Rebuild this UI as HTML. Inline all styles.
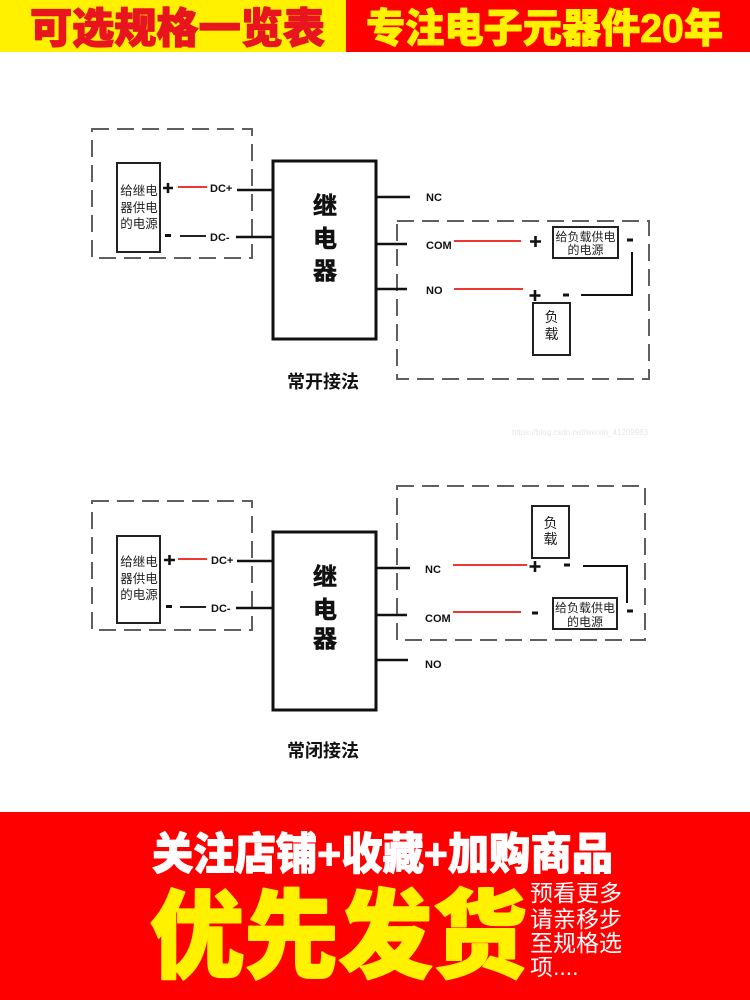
<!DOCTYPE html>
<html>
<head>
<meta charset="utf-8">
<style>
  html,body{margin:0;padding:0;background:#fff;}
  body{width:750px;height:1000px;overflow:hidden;}
  svg{display:block;}
  .cjk{font-family:"Liberation Sans","Noto Sans CJK SC","WenQuanYi Zen Hei",sans-serif;}
  .lat{font-family:"Liberation Sans","Noto Sans CJK SC",sans-serif;}
</style>
</head>
<body>
<svg width="750" height="1000" viewBox="0 0 750 1000" xmlns="http://www.w3.org/2000/svg">
  <rect x="0" y="0" width="750" height="1000" fill="#ffffff"/>

  <!-- Header -->
  <rect x="0" y="0" width="346" height="52" fill="#FFF100"/>
  <rect x="346" y="0" width="404" height="52" fill="#FE0000"/>
  <text x="30" y="43" class="cjk" font-size="42" font-weight="900" fill="#E8141E" stroke="#E8141E" stroke-width="1.2" stroke-linejoin="round" textLength="295" lengthAdjust="spacingAndGlyphs">可选规格一览表</text>
  <text x="366" y="42" class="cjk" font-size="40" font-weight="900" fill="#FFF100" stroke="#FFF100" stroke-width="1" stroke-linejoin="round" textLength="357" lengthAdjust="spacingAndGlyphs">专注电子元器件20年</text>

  <!-- ============ TOP DIAGRAM (常开接法) ============ -->
  <g fill="none" stroke="#606060" stroke-width="2" stroke-dasharray="17 8">
    <rect x="92" y="129" width="160" height="129"/>
    <rect x="397" y="221" width="252" height="158"/>
  </g>
  <rect x="117" y="163" width="43" height="89" fill="#fff" stroke="#222" stroke-width="2"/>
  <g class="cjk" font-size="12.5" fill="#222" text-anchor="middle">
    <text x="139" y="195">给继电</text>
    <text x="139" y="212">器供电</text>
    <text x="139" y="228">的电源</text>
  </g>
  <path d="M163 188 H173 M168 183 V193" stroke="#111" stroke-width="2.6"/>
  <rect x="165" y="234" width="6" height="3" fill="#111"/>
  <line x1="178" y1="187" x2="207" y2="187" stroke="#F03535" stroke-width="2"/>
  <line x1="180" y1="236" x2="206" y2="236" stroke="#222" stroke-width="2"/>
  <g class="lat" font-size="11" font-weight="bold" fill="#111">
    <text x="210" y="192">DC+</text>
    <text x="210" y="241">DC-</text>
  </g>
  <g stroke="#111" stroke-width="2.6">
    <line x1="237" y1="190" x2="274" y2="190"/>
    <line x1="236" y1="237" x2="274" y2="237"/>
  </g>
  <rect x="273" y="161" width="103" height="178" fill="#fff" stroke="#111" stroke-width="3"/>
  <g class="cjk" font-size="24" font-weight="bold" fill="#111" stroke="#111" stroke-width="0.6" text-anchor="middle">
    <text x="325" y="214">继</text>
    <text x="325" y="247">电</text>
    <text x="325" y="279">器</text>
  </g>
  <g stroke="#111" stroke-width="2.6">
    <line x1="375" y1="197" x2="410" y2="197"/>
    <line x1="375" y1="244" x2="407" y2="244"/>
    <line x1="375" y1="289" x2="407" y2="289"/>
  </g>
  <g class="lat" font-size="11" font-weight="bold" fill="#111">
    <text x="426" y="201">NC</text>
    <text x="426" y="249">COM</text>
    <text x="426" y="294">NO</text>
  </g>
  <line x1="454" y1="241" x2="521" y2="241" stroke="#F03535" stroke-width="2"/>
  <line x1="454" y1="289" x2="523" y2="289" stroke="#F03535" stroke-width="2"/>
  <path d="M530 241.5 H541 M535.5 236 V247" stroke="#111" stroke-width="2.6"/>
  <path d="M529.5 295.5 H540.5 M535 290 V301" stroke="#111" stroke-width="2.6"/>
  <rect x="627" y="238.5" width="6" height="3" fill="#111"/>
  <rect x="563" y="293.5" width="6" height="3" fill="#111"/>
  <rect x="553" y="227" width="65" height="31" fill="#fff" stroke="#222" stroke-width="2"/>
  <g class="cjk" font-size="12" fill="#222" text-anchor="middle">
    <text x="585.5" y="241">给负载供电</text>
    <text x="585.5" y="254">的电源</text>
  </g>
  <path d="M632 252 V295 H581" fill="none" stroke="#111" stroke-width="2"/>
  <rect x="533" y="303" width="37" height="52" fill="#fff" stroke="#222" stroke-width="2"/>
  <g class="cjk" font-size="14" fill="#222" text-anchor="middle">
    <text x="551.5" y="322">负</text>
    <text x="551.5" y="339">载</text>
  </g>
  <text x="323" y="388" class="cjk" font-size="18" font-weight="bold" fill="#111" text-anchor="middle">常开接法</text>

  <text x="512" y="435" class="lat" font-size="8" fill="#e6e6e6">https://blog.csdn.net/weixin_41209983</text>

  <!-- ============ BOTTOM DIAGRAM (常闭接法) ============ -->
  <g fill="none" stroke="#606060" stroke-width="2" stroke-dasharray="17 8">
    <rect x="92" y="501" width="160" height="129"/>
    <rect x="397" y="486" width="248" height="154"/>
  </g>
  <rect x="117" y="536" width="43" height="87" fill="#fff" stroke="#222" stroke-width="2"/>
  <g class="cjk" font-size="12.5" fill="#222" text-anchor="middle">
    <text x="139" y="566">给继电</text>
    <text x="139" y="583">器供电</text>
    <text x="139" y="599">的电源</text>
  </g>
  <path d="M164 560 H175 M169.5 555 V565" stroke="#111" stroke-width="2.6"/>
  <rect x="166" y="605" width="6" height="3" fill="#111"/>
  <line x1="178" y1="559" x2="207" y2="559" stroke="#F03535" stroke-width="2"/>
  <line x1="180" y1="607" x2="206" y2="607" stroke="#222" stroke-width="2"/>
  <g class="lat" font-size="11" font-weight="bold" fill="#111">
    <text x="211" y="564">DC+</text>
    <text x="211" y="612">DC-</text>
  </g>
  <g stroke="#111" stroke-width="2.6">
    <line x1="237" y1="561" x2="274" y2="561"/>
    <line x1="236" y1="608" x2="274" y2="608"/>
  </g>
  <rect x="273" y="532" width="103" height="178" fill="#fff" stroke="#111" stroke-width="3"/>
  <g class="cjk" font-size="24" font-weight="bold" fill="#111" stroke="#111" stroke-width="0.6" text-anchor="middle">
    <text x="325" y="585">继</text>
    <text x="325" y="618">电</text>
    <text x="325" y="647">器</text>
  </g>
  <g stroke="#111" stroke-width="2.6">
    <line x1="375" y1="568" x2="410" y2="568"/>
    <line x1="375" y1="615" x2="407" y2="615"/>
    <line x1="375" y1="660" x2="408" y2="660"/>
  </g>
  <g class="lat" font-size="11" font-weight="bold" fill="#111">
    <text x="425" y="573">NC</text>
    <text x="425" y="622">COM</text>
    <text x="425" y="668">NO</text>
  </g>
  <line x1="453" y1="565" x2="527" y2="565" stroke="#F03535" stroke-width="2"/>
  <line x1="453" y1="612" x2="521" y2="612" stroke="#F03535" stroke-width="2"/>
  <path d="M529.5 566.5 H540.5 M535 561 V572" stroke="#111" stroke-width="2.6"/>
  <rect x="564" y="563.5" width="6" height="3" fill="#111"/>
  <rect x="532" y="611.5" width="6" height="3" fill="#111"/>
  <rect x="627" y="609.5" width="6" height="3" fill="#111"/>
  <path d="M583 566 H627 V603" fill="none" stroke="#111" stroke-width="2"/>
  <rect x="532" y="506" width="37" height="52" fill="#fff" stroke="#222" stroke-width="2"/>
  <g class="cjk" font-size="14" fill="#222" text-anchor="middle">
    <text x="550.5" y="528">负</text>
    <text x="550.5" y="544">载</text>
  </g>
  <rect x="553" y="598" width="64" height="31" fill="#fff" stroke="#222" stroke-width="2"/>
  <g class="cjk" font-size="12" fill="#222" text-anchor="middle">
    <text x="585" y="612">给负载供电</text>
    <text x="585" y="626">的电源</text>
  </g>
  <text x="323" y="757" class="cjk" font-size="18" font-weight="bold" fill="#111" text-anchor="middle">常闭接法</text>

  <!-- Footer -->
  <rect x="0" y="812" width="750" height="188" fill="#FE0000"/>
  <text x="152" y="869" class="cjk" font-size="44" font-weight="900" fill="#ffffff" stroke="#ffffff" stroke-width="1" stroke-linejoin="round" textLength="461" lengthAdjust="spacingAndGlyphs">关注店铺+收藏+加购商品</text>
  <text x="150" y="970" class="cjk" font-size="96" font-weight="900" fill="#FFF100" stroke="#FFF100" stroke-width="2" stroke-linejoin="round" textLength="377" lengthAdjust="spacingAndGlyphs">优先发货</text>
  <g class="cjk" font-size="23" fill="#ffffff">
    <text x="530" y="901" textLength="92" lengthAdjust="spacingAndGlyphs">预看更多</text>
    <text x="530" y="927" textLength="92" lengthAdjust="spacingAndGlyphs">请亲移步</text>
    <text x="530" y="951" textLength="92" lengthAdjust="spacingAndGlyphs">至规格选</text>
    <text x="530" y="975">项....</text>
  </g>
</svg>
</body>
</html>
